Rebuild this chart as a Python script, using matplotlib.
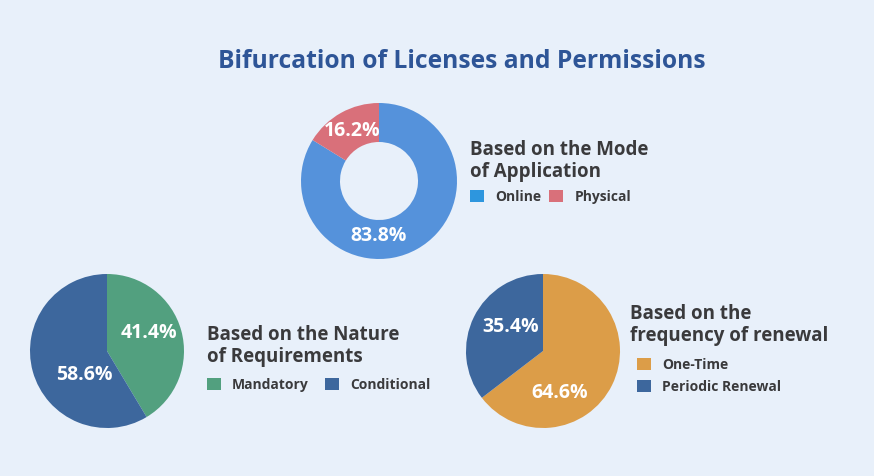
import matplotlib.pyplot as plt
from matplotlib.patches import Patch

# data
mode_labels = ['Online', 'Physical']
mode_values = [83.8, 16.2]
nature_labels = ['Mandatory', 'Conditional']
nature_values = [41.4, 58.6]
renewal_labels = ['One-Time', 'Periodic Renewal']
renewal_values = [64.6, 35.4]

W, H = 874, 476
BG = '#E8F0FA'
TXT = '#3A3A3C'
FONT = 'Open Sans'

fig = plt.figure(figsize=(W / 100, H / 100), dpi=100, facecolor=BG)


def pie_axes(cx, cy, r):
    # place an axes so a radius-1 pie lands at pixel centre (cx, cy)
    ax = fig.add_axes([(cx - r) / W, (H - cy - r) / H, 2 * r / W, 2 * r / H])
    ax.set_facecolor(BG)
    return ax


def draw_pie(ax, values, colors, label_pos, width=None):
    props = dict(linewidth=0)
    if width:
        props['width'] = width
    ax.pie(values, colors=colors, startangle=90, counterclock=False,
           radius=1, wedgeprops=props)
    ax.set_xlim(-1, 1)
    ax.set_ylim(-1, 1)
    ax.axis('off')
    for v, (x, y) in zip(values, label_pos):
        ax.text(x, y, f'{v}%', color='white', fontsize=14, fontweight='bold',
                family=FONT, ha='center', va='center')


def heading(x, y, text):
    fig.text(x / W, 1 - y / H, text, fontsize=13.5, fontweight='bold',
             color=TXT, family=FONT, ha='left', va='top', linespacing=1.15)


def legend(x, y, labels, colors, ncol, colspace=2.2, rowspace=0.6):
    handles = [Patch(facecolor=c, edgecolor='none') for c in colors]
    fig.legend(handles, labels, loc='upper left', bbox_to_anchor=(x / W, 1 - y / H),
               ncol=ncol, frameon=False, handlelength=1.0, handleheight=1.0,
               handletextpad=0.8, columnspacing=colspace, labelspacing=rowspace,
               borderpad=0, borderaxespad=0,
               prop=dict(family=FONT, weight='bold', size=10), labelcolor=TXT)


fig.text(462 / W, 1 - 61 / H, 'Bifurcation of Licenses and Permissions',
         fontsize=17.7, fontweight='bold', color='#2E5597', family=FONT,
         ha='center', va='center')

# top donut
ax1 = pie_axes(379, 181, 78)
draw_pie(ax1, mode_values, ['#5592DB', '#D9707A'],
         [(0.0, -0.70), (-0.35, 0.64)], width=0.5)
heading(470, 140, 'Based on the Mode\nof Application')
legend(470, 190, mode_labels, ['#2D96DE', '#D9707A'], ncol=2, colspace=0.6)

# bottom left pie
ax2 = pie_axes(107, 351, 77)
draw_pie(ax2, nature_values, ['#52A07F', '#3D679D'],
         [(0.55, 0.23), (-0.29, -0.31)])
heading(207, 325, 'Based on the Nature\nof Requirements')
legend(207, 378, nature_labels, ['#52A07F', '#3D679D'], ncol=2, colspace=1.2)

# bottom right pie
ax3 = pie_axes(543, 351, 77)
draw_pie(ax3, renewal_values, ['#DC9D48', '#3D679D'],
         [(0.22, -0.55), (-0.42, 0.31)])
heading(630, 304, 'Based on the\nfrequency of renewal')
legend(637, 358, renewal_labels, ['#DC9D48', '#3D679D'], ncol=1, rowspace=0.55)

fig.savefig('out.png', dpi=100, facecolor=BG)
